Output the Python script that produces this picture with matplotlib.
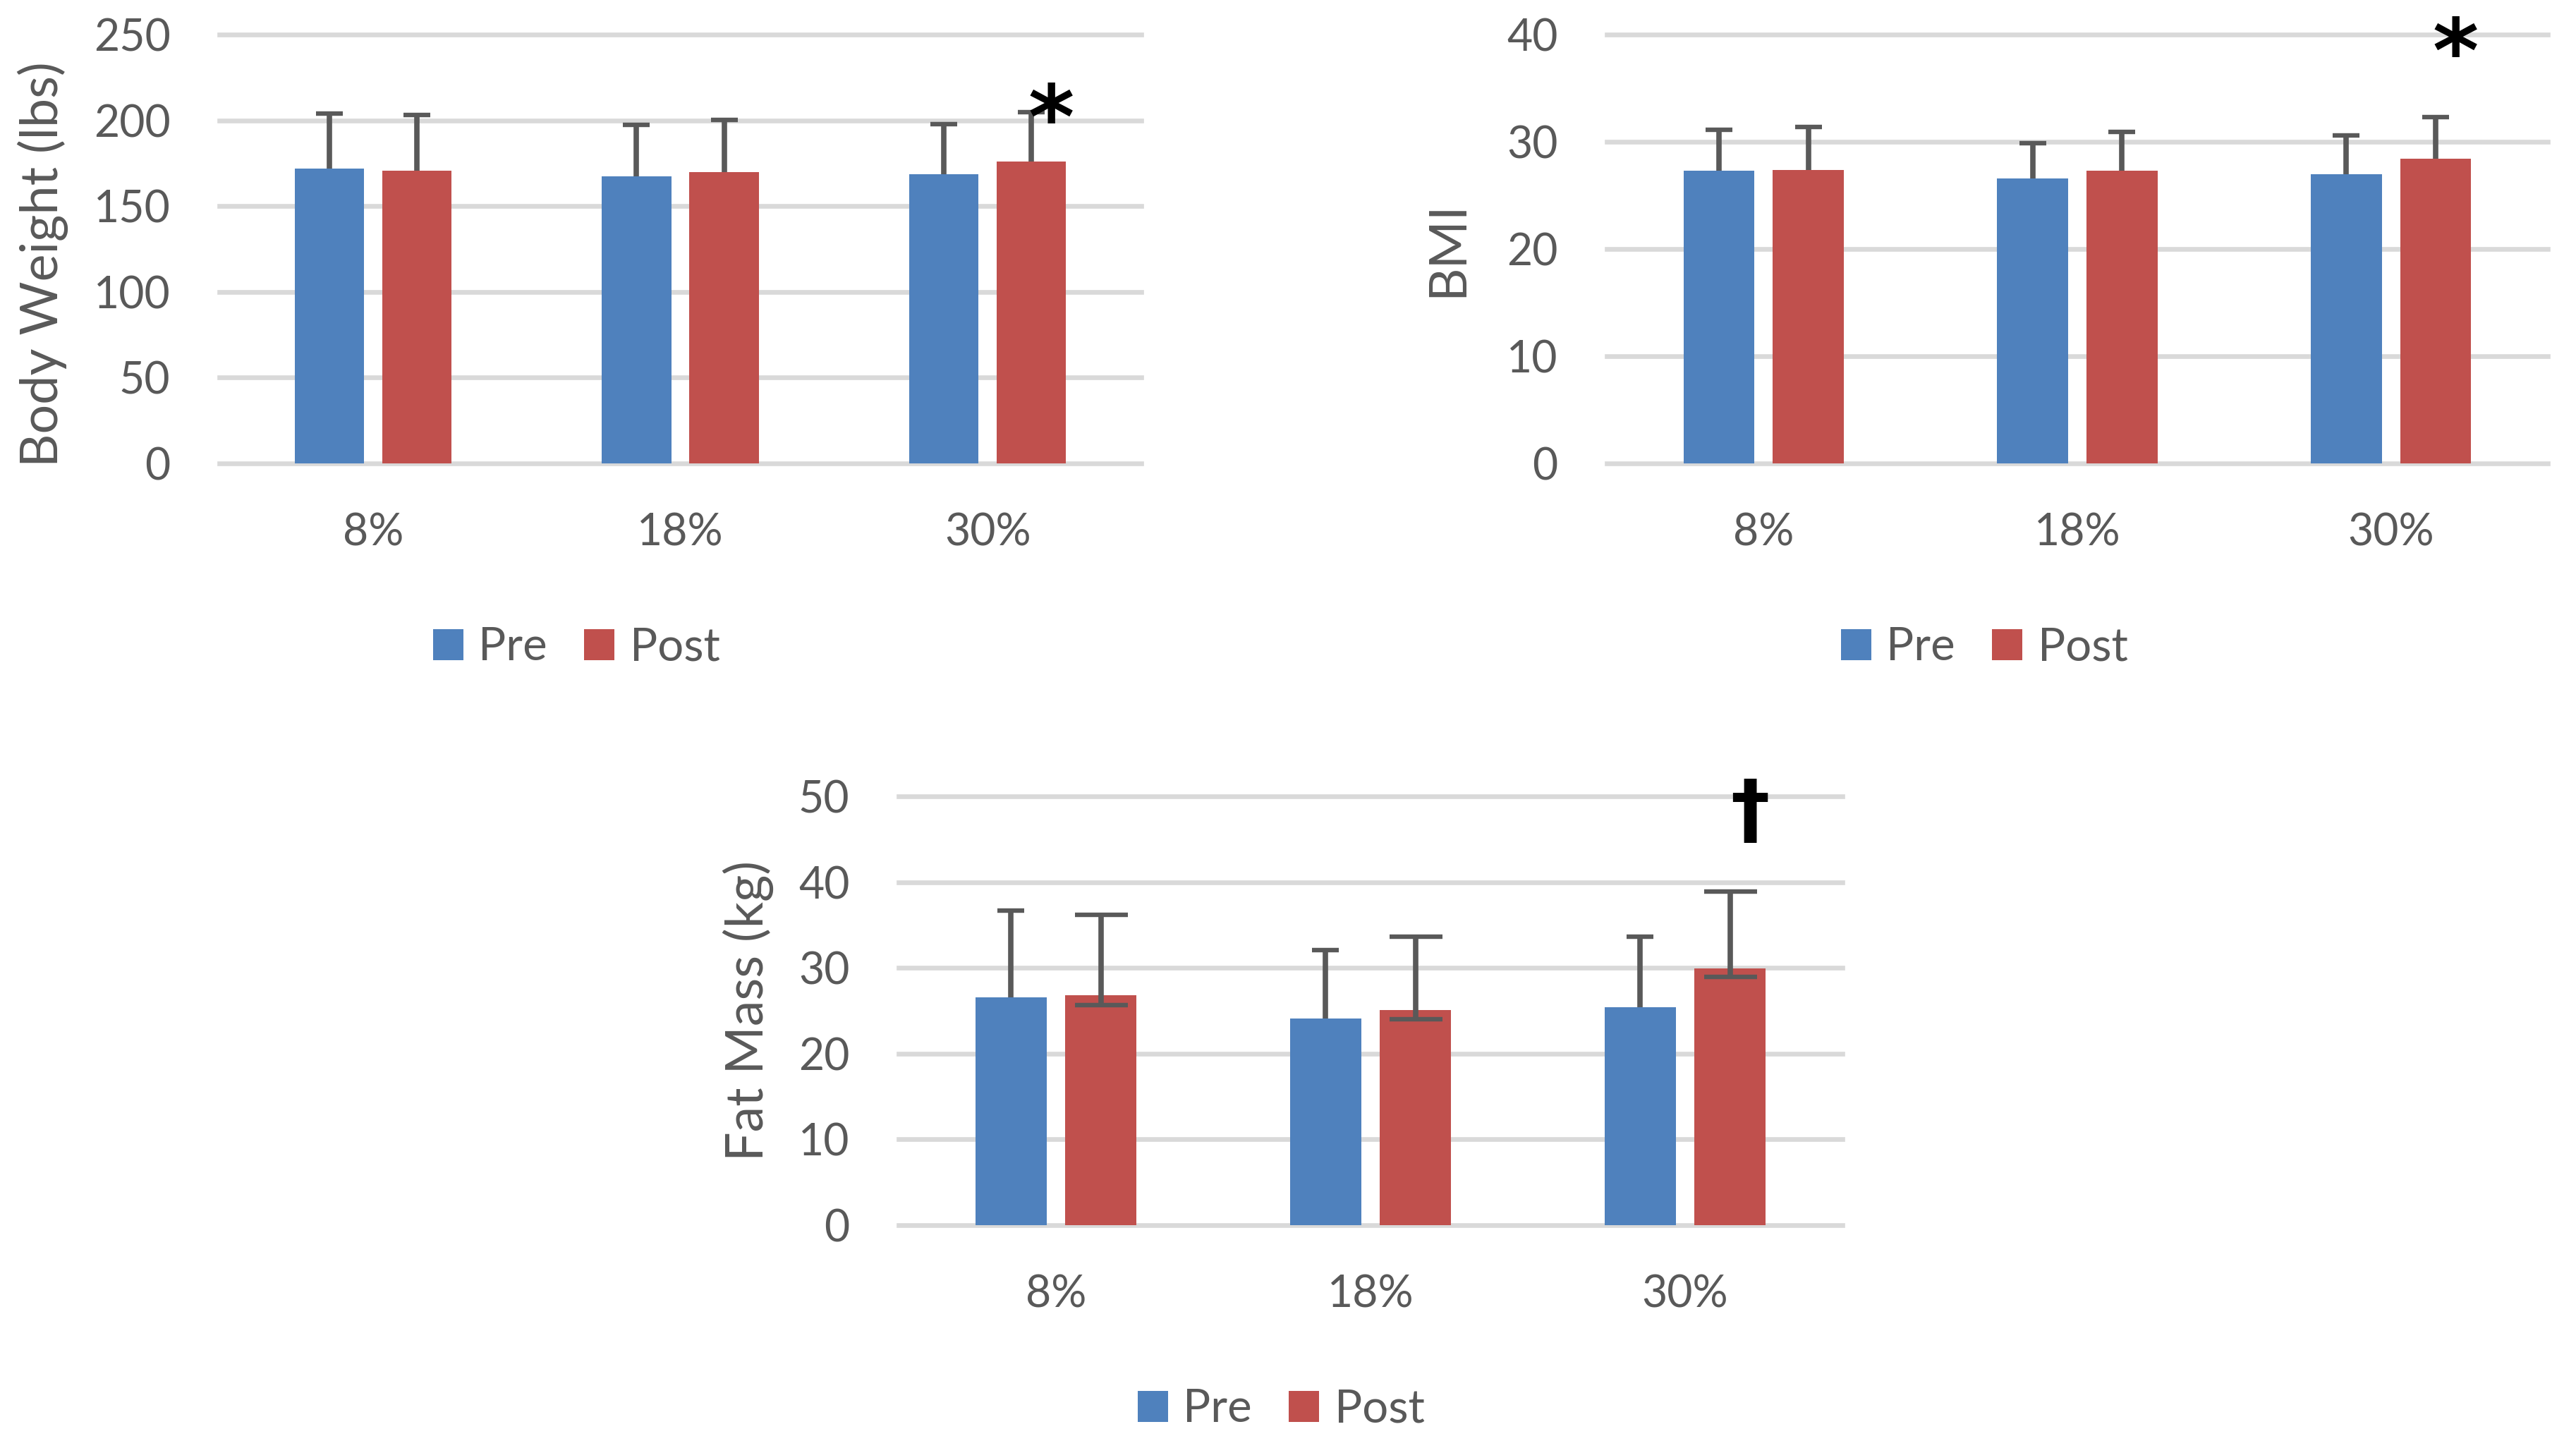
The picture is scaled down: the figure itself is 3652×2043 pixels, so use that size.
import matplotlib
matplotlib.use("Agg")
import matplotlib.pyplot as plt
import matplotlib.transforms as mtransforms
from matplotlib.textpath import TextPath
from matplotlib.font_manager import FontProperties
import numpy as np

# ---------------- data ----------------
categories = ["8%", "18%", "30%"]
series_names = ["Pre", "Post"]

bw_pre = [171.9, 167.5, 168.5]
bw_pre_err = [32.0, 29.8, 29.3]
bw_post = [170.6, 169.8, 175.9]
bw_post_err = [32.4, 30.6, 28.7]

bmi_pre = [27.3, 26.6, 27.0]
bmi_pre_err = [3.8, 3.3, 3.6]
bmi_post = [27.4, 27.3, 28.4]
bmi_post_err = [4.0, 3.6, 3.9]

fat_pre = [26.6, 24.1, 25.4]
fat_pre_err = [10.1, 8.0, 8.2]
fat_post = [26.8, 25.1, 29.9]
fat_post_err_up = [9.4, 8.5, 9.0]
fat_post_err_down = [1.15, 1.05, 0.95]

bw_ticks = [0, 50, 100, 150, 200, 250]
bmi_ticks = [0, 10, 20, 30, 40]
fat_ticks = [0, 10, 20, 30, 40, 50]

# significance marks: (category index, y value, symbol)
bw_mark = (2, 210, "*")
bmi_mark = (2, 39.8, "*")
fat_mark = (2, 48.4, "\u2020")

# ---------------- style ----------------
W, H = 3652, 2043
DPI = 100
BLUE = "#4F81BD"
RED = "#C0504D"
GRID = "#D9D9D9"
TXT = "#595959"
ERR = "#595959"
FONT = "Lato"
TICK_FS = 45
LEG_FS = 47
LABEL_FS = 53

plt.rcParams["font.family"] = [FONT, "DejaVu Sans"]

fig = plt.figure(figsize=(W / DPI, H / DPI), dpi=DPI)
fig.patch.set_facecolor("white")

def px_axes(left, right, top, bottom):
    return [left / W, 1 - bottom / H, (right - left) / W, (bottom - top) / H]

BAR_W = 0.226
OFF = 0.1425
ELW = 5.5
CAPS = 27
CAPT = 4.6

def add_err(ax, x, y, up, down=None):
    y = np.asarray(y, float)
    up = np.asarray(up, float)
    if down is None:
        ax.errorbar(x, y, yerr=[np.zeros_like(up), up], fmt="none", ecolor=ERR,
                    elinewidth=ELW, capsize=0, zorder=3)
        ax.plot(x, y + up, ls="none", marker="_", ms=CAPS, mew=CAPT, color=ERR, zorder=3)
    else:
        ax.errorbar(x, y, yerr=[np.asarray(down, float), up], fmt="none", ecolor=ERR,
                    elinewidth=ELW, capsize=CAPS, capthick=CAPT, zorder=3)

def add_mark(ax, ci, yv, sym, fs, weight="bold"):
    prop = FontProperties(family="DejaVu Sans", weight=weight, size=fs)
    tp = TextPath((0, 0), sym, prop=prop)
    ext = tp.get_extents()
    dy = -(ext.y0 + ext.y1) / 2.0
    tr = mtransforms.offset_copy(ax.transData, fig=fig, x=0, y=dy, units="points")
    ax.text(ci + 0.207, yv, sym, ha="center", va="baseline", fontproperties=prop,
            color="black", transform=tr, zorder=4)

def make_panel(rect, pre, pre_err, post, post_err, ticks, ylabel, label_xy, mark, mark_fs,
               legend_xy, post_err_down=None):
    ax = fig.add_axes(rect)
    x = np.arange(len(categories))
    ax.bar(x - OFF, pre, width=BAR_W, color=BLUE, zorder=2, label=series_names[0])
    ax.bar(x + OFF, post, width=BAR_W, color=RED, zorder=2, label=series_names[1])
    add_err(ax, x - OFF, pre, pre_err)
    add_err(ax, x + OFF, post, post_err, post_err_down)

    ax.set_xlim(-0.5, len(categories) - 0.5)
    ax.set_ylim(ticks[0], ticks[-1])
    ax.set_yticks(ticks)
    ax.set_yticklabels([str(t) for t in ticks])
    ax.set_xticks(x)
    ax.set_xticklabels(categories)
    ax.yaxis.grid(True, color=GRID, linewidth=4.8, zorder=0)
    ax.set_axisbelow(True)
    for gl in ax.get_ygridlines():
        gl.set_clip_on(False)
    for s in ax.spines.values():
        s.set_visible(False)
    ax.tick_params(axis="y", length=0, pad=50, labelsize=TICK_FS, labelcolor=TXT)
    ax.tick_params(axis="x", length=0, pad=50, labelsize=TICK_FS, labelcolor=TXT)
    ax.set_ylabel(ylabel, fontsize=LABEL_FS, color=TXT)
    ax.yaxis.set_label_coords(*label_xy)

    ci, yv, sym = mark
    add_mark(ax, ci, yv, sym, mark_fs)

    ax.legend(loc="center", bbox_to_anchor=legend_xy, bbox_transform=fig.transFigure,
              ncol=2, frameon=False, fontsize=LEG_FS, handlelength=0.66,
              handleheight=0.66, handletextpad=0.33, columnspacing=0.8,
              labelcolor=TXT, borderpad=0)
    return ax

make_panel(px_axes(311, 1618, 49, 657), bw_pre, bw_pre_err, bw_post, bw_post_err,
           bw_ticks, "Body Weight (lbs)", (-0.164, 0.465), bw_mark, 90,
           (817 / W, 1 - 918 / H))
make_panel(px_axes(2278, 3612, 49, 657), bmi_pre, bmi_pre_err, bmi_post, bmi_post_err,
           bmi_ticks, "BMI", (-0.144, 0.5), bmi_mark, 90, (2813 / W, 1 - 918 / H))
make_panel(px_axes(1274, 2612, 1129, 1737), fat_pre, fat_pre_err, fat_post, fat_post_err_up,
           fat_ticks, "Fat Mass (kg)", (-0.132, 0.5), fat_mark, 80,
           (1816 / W, 1 - 1998 / H), post_err_down=fat_post_err_down)

fig.savefig("out.png", dpi=DPI, facecolor="white")
